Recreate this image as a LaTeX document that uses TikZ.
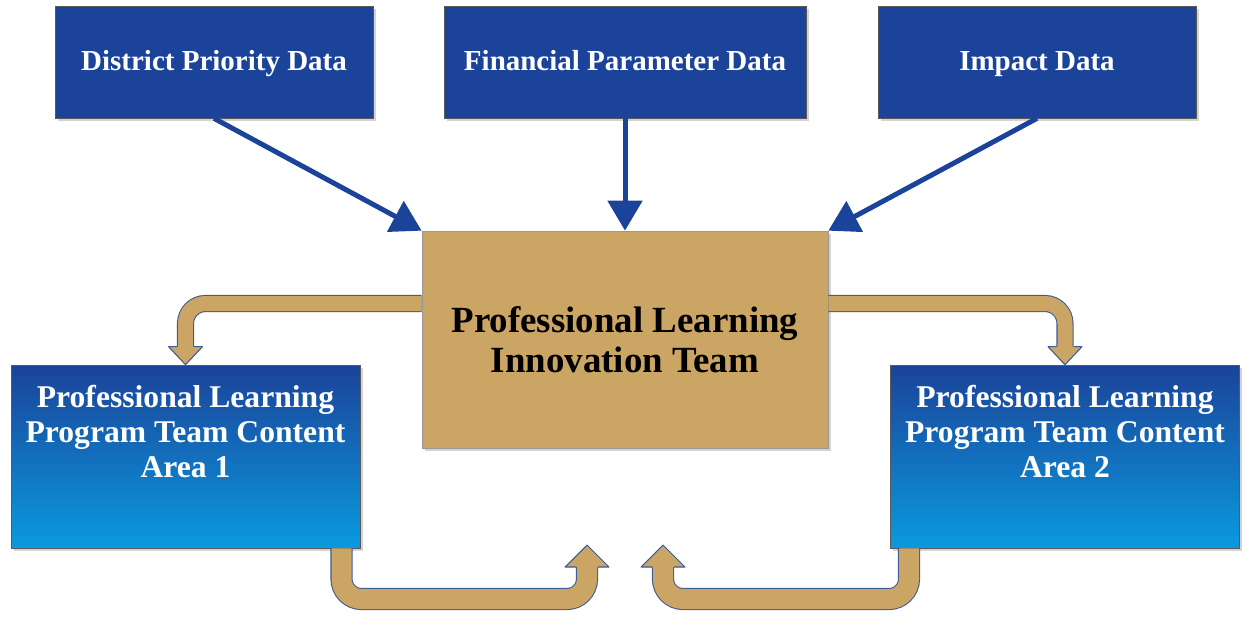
\documentclass[tikz,border=0pt]{standalone}
\usepackage{fontspec}
\setmainfont{Liberation Serif}
\usetikzlibrary{arrows.meta,calc,shadows}
\definecolor{darkblue}{HTML}{1B4399}
\definecolor{lightblue}{HTML}{0A9ADF}
\definecolor{plitan}{HTML}{CBA563}
\definecolor{bandedge}{HTML}{3D5A99}
\begin{document}
\begin{tikzpicture}[x = 0.02cm, y = -0.02cm,
        boxshadow/.style = {drop shadow = {shadow xshift = 1.5pt, shadow yshift = -1.5pt, opacity = 0.35}},
        databox/.style = {draw = gray!70!black, fill = darkblue, text = white, boxshadow,
            font = \bfseries\fontsize{16.5}{20}\selectfont, text height = 0.95em, text depth = 0.02em, minimum height = 2.24cm},
        plitbox/.style = {draw = gray!80, fill = plitan, boxshadow, align = center,
            font = \bfseries\fontsize{21}{23}\selectfont, minimum width = 8.12cm, minimum height = 4.34cm},
        progbox/.style = {draw = gray!70!black, top color = darkblue, bottom color = lightblue, boxshadow,
            minimum width = 6.98cm, minimum height = 3.66cm},
        progtext/.style = {text = white, align = center, font = \bfseries\fontsize{18}{20}\selectfont},
        dataarrow/.style = {draw = darkblue, line width = 0.1cm, -{Triangle[length = 0.6cm, width = 0.68cm]}},
        bandline/.style = {draw = bandedge, line width = 0.6pt, double = plitan, double distance = 0.3cm, rounded corners = 0.4cm}
    ]
    \useasboundingbox (0,0) rectangle (1242,619);
    % boxes
    \node[databox, minimum width = 6.36cm] (dist) at (214,62) {District Priority Data};
    \node[databox, minimum width = 7.24cm] (fin) at (625,62) {Financial Parameter Data};
    \node[databox, minimum width = 6.36cm] (imp) at (1037,62) {Impact Data};
    \node[plitbox] (plit) at (625,339.5) {Professional Learning\\Innovation Team};
    \node[progbox] (prog1) at (185.5,456.5) {};
    \node[progbox] (prog2) at (1065,456.5) {};
    \node[progtext] (prog1text) at ($(prog1)+(0,-25)$) {Professional Learning\\Program Team Content\\Area 1};
    \node[progtext] (prog2text) at ($(prog2)+(0,-25)$) {Professional Learning\\Program Team Content\\Area 2};
    % data arrows
    \draw[dataarrow] (dist.south) -- (plit.north west);
    \draw[dataarrow] (fin.south) -- (plit.north);
    \draw[dataarrow] (imp.south) -- (plit.north east);
    % bands between the teams
    \coordinate (loopL) at (587,545);
    \coordinate (loopR) at (663,545);
    \draw[bandline] ($(plit.west)+(0,-36)$) -| ($(prog1.north)+(0,-16)$);
    \draw[bandline] ($(plit.east)+(0,-36)$) -| ($(prog2.north)+(0,-16)$);
    \draw[bandline, double distance = 0.4cm] ($(prog1.south)+(156,0)$) |- ($(loopL)+(0,54)$) -- ($(loopL)+(0,20)$);
    \draw[bandline, double distance = 0.4cm] ($(prog2.south)+(-156,0)$) |- ($(loopR)+(0,54)$) -- ($(loopR)+(0,20)$);
    % arrow heads of the bands
    \begin{scope}[fill = plitan]
        \fill (prog1.north) -- ++(-17,-18) -- ++(34,0) -- cycle;
        \fill (prog2.north) -- ++(-17,-18) -- ++(34,0) -- cycle;
        \fill (loopL) -- ++(-22,22) -- ++(44,0) -- cycle;
        \fill (loopR) -- ++(-22,22) -- ++(44,0) -- cycle;
    \end{scope}
    \begin{scope}[draw = bandedge, line width = 0.6pt, line join = round]
        \draw ($(prog1.north)+(-8.5,-18)$) -- ++(-8.5,0) -- (prog1.north) -- ++(17,-18) -- ++(-8.5,0);
        \draw ($(prog2.north)+(-8.5,-18)$) -- ++(-8.5,0) -- (prog2.north) -- ++(17,-18) -- ++(-8.5,0);
        \draw ($(loopL)+(-11,22)$) -- ++(-11,0) -- (loopL) -- ++(22,22) -- ++(-11,0);
        \draw ($(loopR)+(-11,22)$) -- ++(-11,0) -- (loopR) -- ++(22,22) -- ++(-11,0);
    \end{scope}
\end{tikzpicture}
\end{document}
